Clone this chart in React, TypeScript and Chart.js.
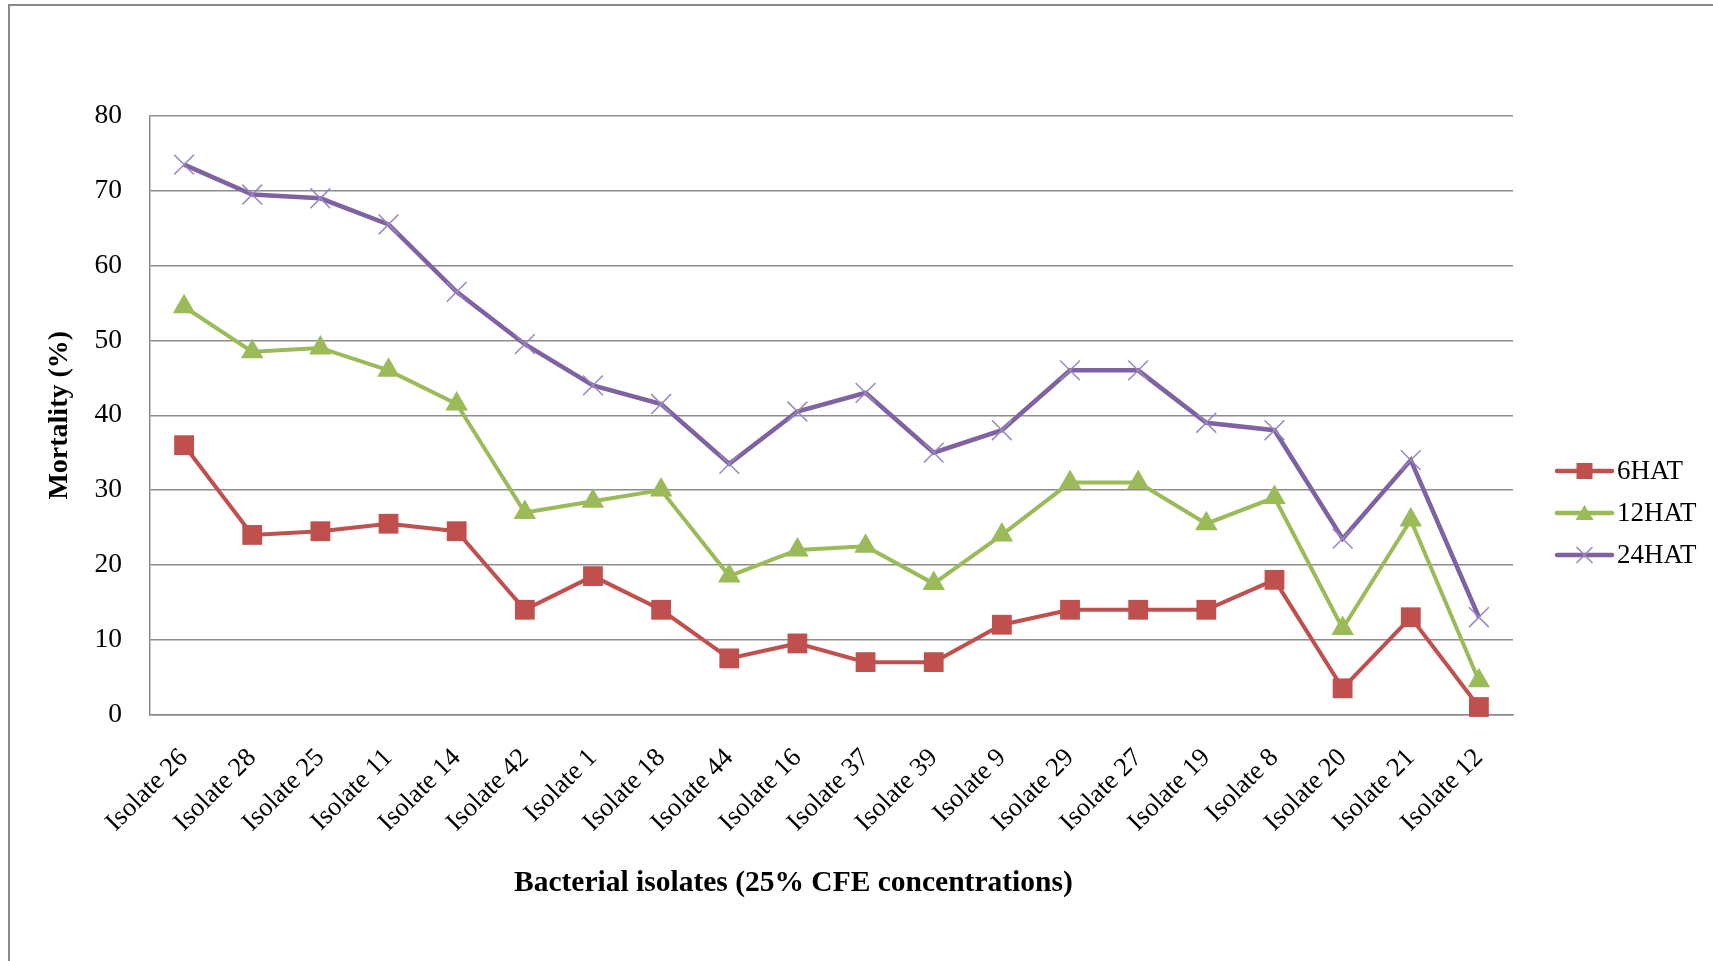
import React, { useEffect, useRef } from "react";
import { Chart, registerables } from "chart.js";

Chart.register(...registerables);

// Bacterial isolates, ordered as on the horizontal axis
const isolates = [
  "Isolate 26", "Isolate 28", "Isolate 25", "Isolate 11", "Isolate 14",
  "Isolate 42", "Isolate 1", "Isolate 18", "Isolate 44", "Isolate 16",
  "Isolate 37", "Isolate 39", "Isolate 9", "Isolate 29", "Isolate 27",
  "Isolate 19", "Isolate 8", "Isolate 20", "Isolate 21", "Isolate 12",
];

// Mortality (%) at 6, 12 and 24 hours after treatment
const mortality6HAT = [36, 24, 24.5, 25.5, 24.5, 14, 18.5, 14, 7.5, 9.5, 7, 7, 12, 14, 14, 14, 18, 3.5, 13, 1];
const mortality12HAT = [54.5, 48.5, 49, 46, 41.5, 27, 28.5, 30, 18.5, 22, 22.5, 17.5, 24, 31, 31, 25.5, 29, 11.5, 26, 4.5];
const mortality24HAT = [73.5, 69.5, 69, 65.5, 56.5, 49.5, 44, 41.5, 33.5, 40.5, 43, 35, 38, 46, 46, 39, 38, 23.5, 34, 13];

const seriesNames = ["6HAT", "12HAT", "24HAT"];
const yTicks = [0, 10, 20, 30, 40, 50, 60, 70, 80];

const xTitle = "Bacterial isolates (25% CFE concentrations)";
const yTitle = "Mortality (%)";

const SERIF = "'Liberation Serif', 'Times New Roman', serif";
const RED = "#C0504D";
const GREEN = "#9BBB59";
const PURPLE = "#7E62A1";
const GRID = "#8c8c8c";

// Legend on the right: a short line with the series marker on it
const sideLegend = {
  id: "sideLegend",
  afterDraw(chart: any) {
    const { ctx, chartArea } = chart;
    const x0 = chartArea.right + 44;
    const x1 = x0 + 55;
    const rows = [471, 513, 555];
    ctx.save();
    chart.data.datasets.forEach((ds: any, i: number) => {
      const y = rows[i];
      ctx.strokeStyle = ds.borderColor;
      ctx.lineWidth = 4.5;
      ctx.lineCap = "round";
      ctx.beginPath();
      ctx.moveTo(x0, y);
      ctx.lineTo(x1, y);
      ctx.stroke();
      ctx.lineCap = "butt";
      const cx = (x0 + x1) / 2;
      ctx.fillStyle = ds.pointBackgroundColor;
      ctx.strokeStyle = ds.pointBorderColor;
      ctx.lineWidth = ds.pointBorderWidth;
      if (ds.pointStyle === "rect") {
        ctx.fillRect(cx - 8, y - 8, 16, 16);
      } else if (ds.pointStyle === "triangle") {
        ctx.beginPath();
        ctx.moveTo(cx, y - 8);
        ctx.lineTo(cx + 9, y + 7);
        ctx.lineTo(cx - 9, y + 7);
        ctx.closePath();
        ctx.fill();
      } else {
        ctx.beginPath();
        ctx.moveTo(cx - 8, y - 8);
        ctx.lineTo(cx + 8, y + 8);
        ctx.moveTo(cx + 8, y - 8);
        ctx.lineTo(cx - 8, y + 8);
        ctx.stroke();
      }
      ctx.fillStyle = "#000";
      ctx.font = `27px ${SERIF}`;
      ctx.textAlign = "left";
      ctx.textBaseline = "middle";
      ctx.fillText(ds.label, x1 + 5, y + 1);
    });
    ctx.restore();
  },
};

// Horizontal axis title, set slightly left of the plot centre
const bottomTitle = {
  id: "bottomTitle",
  afterDraw(chart: any) {
    const { ctx, chartArea } = chart;
    ctx.save();
    ctx.fillStyle = "#000";
    ctx.font = `bold 29.5px ${SERIF}`;
    ctx.textAlign = "center";
    ctx.textBaseline = "middle";
    ctx.fillText(xTitle, chartArea.left + chartArea.width * 0.472, 883);
    ctx.restore();
  },
};

export default function App() {
  const canvasRef = useRef<HTMLCanvasElement | null>(null);

  useEffect(() => {
    const canvas = canvasRef.current;
    if (!canvas) return;
    const chart = new Chart(canvas, {
      type: "line",
      data: {
        labels: isolates,
        datasets: [
          {
            label: seriesNames[0],
            data: mortality6HAT,
            borderColor: RED,
            backgroundColor: RED,
            borderWidth: 4,
            pointStyle: "rect",
            pointRadius: 14,
            pointBackgroundColor: RED,
            pointBorderColor: RED,
            pointBorderWidth: 0,
            tension: 0,
            clip: false,
            order: 2,
          },
          {
            label: seriesNames[1],
            data: mortality12HAT,
            borderColor: GREEN,
            backgroundColor: GREEN,
            borderWidth: 4,
            pointStyle: "triangle",
            pointRadius: 13,
            pointBackgroundColor: GREEN,
            pointBorderColor: GREEN,
            pointBorderWidth: 0,
            tension: 0,
            clip: false,
            order: 1,
          },
          {
            label: seriesNames[2],
            data: mortality24HAT,
            borderColor: PURPLE,
            backgroundColor: PURPLE,
            borderWidth: 4.5,
            pointStyle: "crossRot",
            pointRadius: 14,
            pointBackgroundColor: "#9a86c0",
            pointBorderColor: "#9a86c0",
            pointBorderWidth: 1.5,
            tension: 0,
            clip: false,
            order: 0,
          },
        ] as any,
      },
      options: {
        animation: false,
        responsive: false,
        maintainAspectRatio: false,
        events: [],
        layout: { padding: { left: 0, right: 200, top: 116, bottom: 0 } },
        plugins: {
          legend: { display: false },
          tooltip: { enabled: false },
          title: { display: false },
        },
        scales: {
          x: {
            type: "category",
            offset: true,
            grid: { display: false, drawTicks: false },
            border: { display: true, color: GRID, width: 1.5 },
            ticks: {
              autoSkip: false,
              maxRotation: 45,
              minRotation: 45,
              padding: 28,
              color: "#000",
              font: { family: SERIF, size: 26.5 },
            },
            afterFit(scale: any) {
              scale.height = 246.5;
            },
          },
          y: {
            min: 0,
            max: 80,
            afterBuildTicks(scale: any) {
              scale.ticks = yTicks.map((v) => ({ value: v }));
            },
            grid: { color: GRID, lineWidth: 1.5, drawTicks: false },
            border: { display: true, color: GRID, width: 1.5 },
            ticks: {
              padding: 28,
              color: "#000",
              font: { family: SERIF, size: 27.5 },
            },
            title: {
              display: true,
              text: yTitle,
              color: "#000",
              font: { family: SERIF, size: 28, weight: "bold", lineHeight: 1 },
              padding: { top: 46, bottom: 0 },
            },
            afterFit(scale: any) {
              scale.width = 150;
            },
          },
        },
      } as any,
      plugins: [sideLegend, bottomTitle],
    });
    return () => chart.destroy();
  }, []);

  return (
    <div
      style={{
        position: "fixed",
        left: 0,
        top: 0,
        width: 1713,
        height: 961,
        background: "#fff",
        overflow: "hidden",
      }}
    >
      <div
        style={{
          position: "absolute",
          left: 8,
          top: 4,
          width: 1800,
          height: 1100,
          border: "2.5px solid #8a8a8a",
          boxSizing: "border-box",
        }}
      />
      <canvas
        ref={canvasRef}
        width={1713}
        height={961}
        style={{ position: "absolute", left: 0, top: 0, width: 1713, height: 961 }}
      />
    </div>
  );
}
